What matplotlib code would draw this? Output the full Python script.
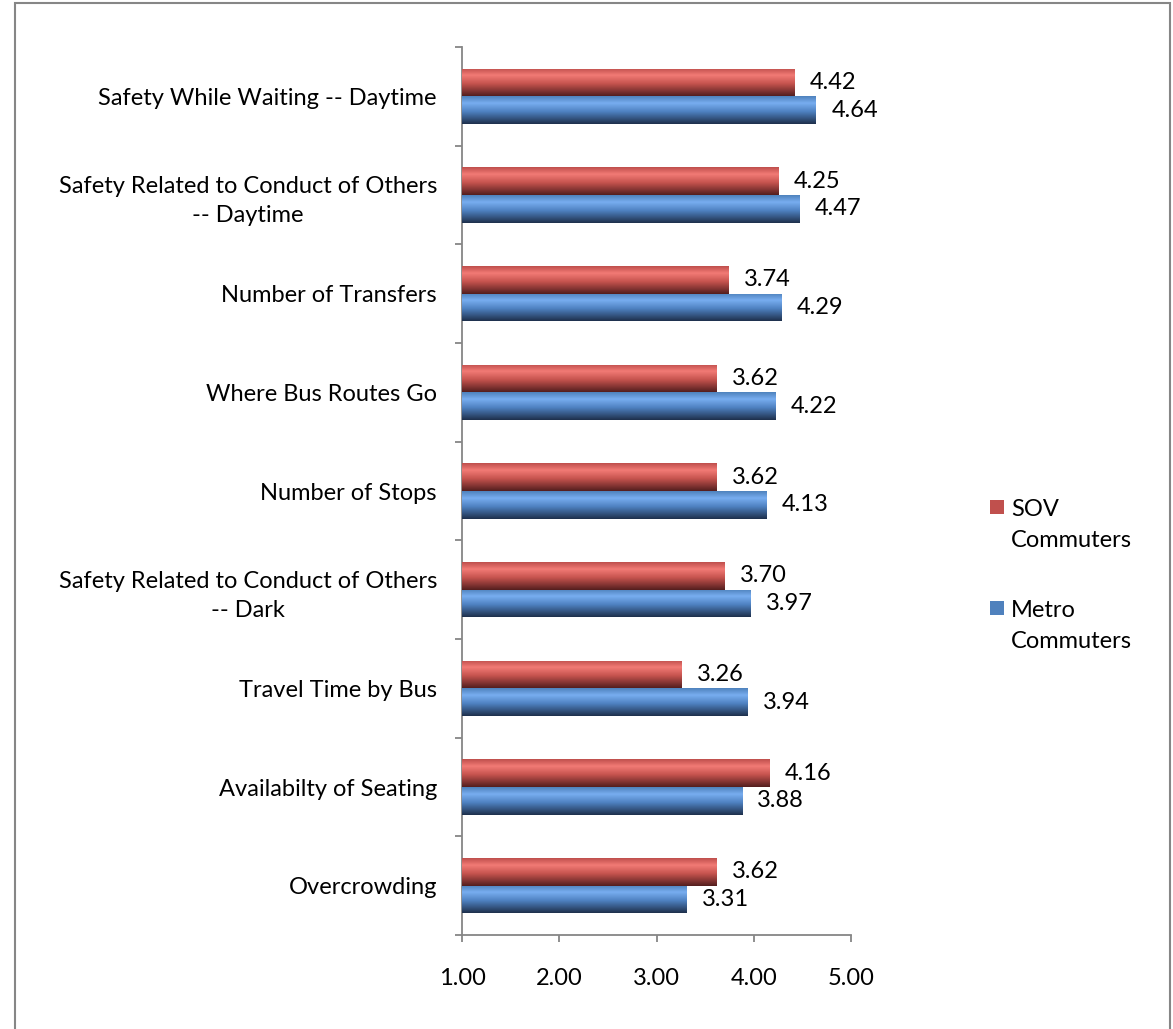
import numpy as np
import matplotlib
matplotlib.use("Agg")
from matplotlib import pyplot as plt
from matplotlib.patches import Rectangle

# categories top -> bottom
categories = [
    "Safety While Waiting -- Daytime",
    "Safety Related to Conduct of Others\n-- Daytime",
    "Number of Transfers",
    "Where Bus Routes Go",
    "Number of Stops",
    "Safety Related to Conduct of Others\n-- Dark",
    "Travel Time by Bus",
    "Availabilty of Seating",
    "Overcrowding",
]
sov = [4.42, 4.25, 3.74, 3.62, 3.62, 3.70, 3.26, 4.16, 3.62]
metro = [4.64, 4.47, 4.29, 4.22, 4.13, 3.97, 3.94, 3.88, 3.31]
xticks = [1, 2, 3, 4, 5]
base = 1.0  # value axis starts at 1

plt.rcParams['font.family'] = ['Lato', 'DejaVu Sans']
FS = 17

fig = plt.figure(figsize=(11.73, 10.29), dpi=100)
ax = fig.add_axes([462 / 1173, 1 - 935 / 1029, (851 - 462) / 1173, (935 - 47) / 1029])

n = len(categories)
y = np.arange(n)[::-1]  # top category at highest y
h = 0.28

# gradient colour stops (top -> bottom of each bar)
red_stops = [(0.0, (0.75, 0.31, 0.30)), (0.25, (0.95, 0.48, 0.46)),
             (0.55, (0.78, 0.33, 0.31)), (1.0, (0.33, 0.12, 0.12))]
blue_stops = [(0.0, (0.31, 0.51, 0.74)), (0.25, (0.47, 0.68, 0.94)),
              (0.55, (0.31, 0.51, 0.76)), (1.0, (0.12, 0.19, 0.30))]


def grad(stops, m=64):
    t = np.linspace(0, 1, m)
    pos = [s[0] for s in stops]
    cols = np.array([s[1] for s in stops])
    img = np.stack([np.interp(t, pos, cols[:, k]) for k in range(3)], axis=1)
    return img[:, None, :]


def shaded_bars(ypos, vals, stops, color):
    bars = ax.barh(ypos, np.array(vals) - base, left=base, height=h,
                   color=color, edgecolor='none', zorder=2)
    g = grad(stops)
    for b in bars:
        x0, y0 = b.get_x(), b.get_y()
        w, hh = b.get_width(), b.get_height()
        im = ax.imshow(g, extent=(x0, x0 + w, y0, y0 + hh), origin='upper',
                       aspect='auto', zorder=3, interpolation='bilinear')
        im.set_clip_path(b)
    return bars


shaded_bars(y + h / 2, sov, red_stops, '#C0504D')
shaded_bars(y - h / 2, metro, blue_stops, '#4F81BD')

for yi, v in zip(y + h / 2, sov):
    ax.annotate(f"{v:.2f}", (v, yi), xytext=(11, 0), textcoords='offset points',
                ha='left', va='center', fontsize=FS)
for yi, v in zip(y - h / 2, metro):
    ax.annotate(f"{v:.2f}", (v, yi), xytext=(11, 0), textcoords='offset points',
                ha='left', va='center', fontsize=FS)

ax.set_xlim(1, 5)
ax.set_ylim(-0.5, n - 0.5)
ax.set_xticks(xticks)
ax.set_xticklabels([f"{t:.2f}" for t in xticks], fontsize=FS)
ax.set_yticks(y)
ax.set_yticklabels(categories, fontsize=FS, multialignment='center', linespacing=1.5)
ax.set_yticks(np.arange(n + 1) - 0.5, minor=True)
ax.tick_params(axis='y', which='major', length=0, pad=18)
ax.tick_params(axis='y', which='minor', length=5, width=1.3, color='#868686', direction='out')
ax.tick_params(axis='x', length=5, width=1.3, color='#868686', direction='out', pad=19)

for s in ['top', 'right']:
    ax.spines[s].set_visible(False)
for s in ['left', 'bottom']:
    ax.spines[s].set_color('#868686')
    ax.spines[s].set_linewidth(1.3)

# legend drawn by hand to keep squares aligned with first line
leg = [("SOV\nCommuters", '#C0504D', 507), ("Metro\nCommuters", '#4F81BD', 608)]
for label, col, ypx in leg:
    fig.patches.append(Rectangle((990 / 1173, 1 - (ypx + 7) / 1029), 14 / 1173, 14 / 1029,
                                 transform=fig.transFigure, facecolor=col, edgecolor='none'))
    fig.text(1011 / 1173, 1 - (ypx - 8) / 1029, label, fontsize=FS, ha='left', va='top',
             linespacing=1.6)

# outer chart border
fig.patches.append(Rectangle((15 / 1173, -0.01), (1170 - 15) / 1173, 1 - 3 / 1029 + 0.01,
                             transform=fig.transFigure, facecolor='none',
                             edgecolor='#868686', linewidth=1.5))

fig.savefig("out.png", dpi=100)
